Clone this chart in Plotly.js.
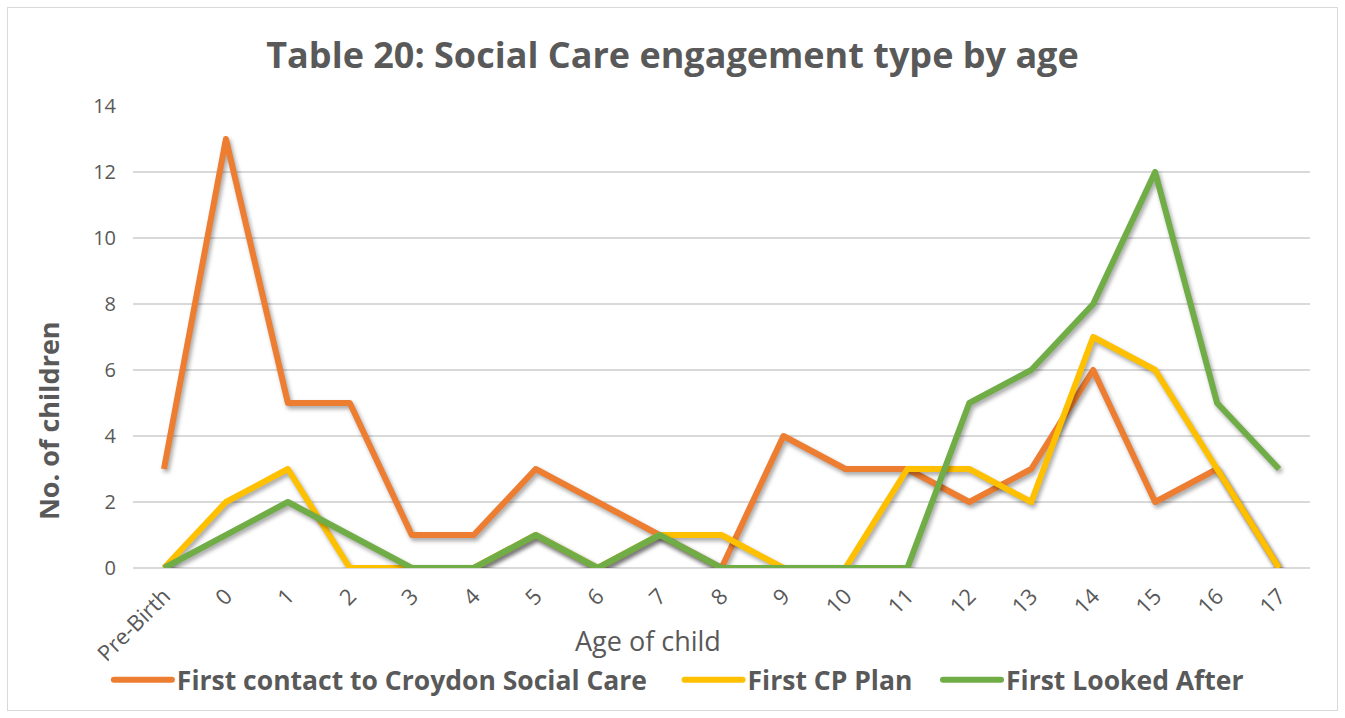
<!DOCTYPE html>
<html>
<head>
<meta charset="utf-8">
<script src="https://cdn.plot.ly/plotly-3.0.1.min.js"></script>
<style>
html,body{margin:0;padding:0;background:#fff;}
#chart{width:1345px;height:718px;}
#frame{position:absolute;left:7px;top:7px;width:1329px;height:702px;border:1.5px solid #d9d9d9;pointer-events:none;}
#chart .scatterlayer .js-line{filter:drop-shadow(2px 3px 2px rgba(0,0,0,0.35));stroke-linejoin:round;}
#chart .legend .js-line{stroke-linecap:round;}
</style>
</head>
<body>
<div id="chart"></div>
<div id="frame"></div>
<script>
const categories = ["Pre-Birth","0","1","2","3","4","5","6","7","8","9","10","11","12","13","14","15","16","17"];
const firstContact = [3,13,5,5,1,1,3,2,1,0,4,3,3,2,3,6,2,3,0];
const firstCPPlan = [0,2,3,0,0,0,1,0,1,1,0,0,3,3,2,7,6,3,0];
const firstLookedAfter = [0,1,2,1,0,0,1,0,1,0,0,0,0,5,6,8,12,5,3];
const seriesNames = ["First contact to Croydon Social Care","First CP Plan","First Looked After"];
const colors = ["#ED7D31","#FFC000","#70AD47"];

const font = "Open Sans, Noto Sans, sans-serif";
const txt = "#595959";
const pads = ["&nbsp;".repeat(4), "&nbsp;".repeat(3), ""];

const traces = [firstContact, firstCPPlan, firstLookedAfter].map((vals, i) => ({
  x: categories,
  y: vals,
  type: "scatter",
  mode: "lines",
  name: "<b>" + seriesNames[i] + "</b>" + pads[i],
  line: {color: colors[i], width: 6}
}));

const layout = {
  width: 1345,
  height: 718,
  paper_bgcolor: "#fff",
  plot_bgcolor: "#fff",
  margin: {l: 133, r: 35, t: 106, b: 150},
  title: {
    text: "<b>Table 20: Social Care engagement type by age</b>",
    font: {family: font, size: 36, color: txt},
    x: 0.5, xanchor: "center",
    y: 0.923, yanchor: "middle"
  },
  xaxis: {
    type: "category",
    tickangle: -45,
    tickfont: {family: font, size: 22, color: txt},
    showgrid: false,
    showline: false,
    zeroline: false,
    ticks: "",
    ticklabelstandoff: 10,
    range: [-0.5, 18.5]
  },
  yaxis: {
    range: [0, 14],
    dtick: 2,
    tickfont: {family: font, size: 20, color: txt},
    gridcolor: "#d9d9d9",
    gridwidth: 1.3,
    zeroline: true,
    zerolinecolor: "#d9d9d9",
    zerolinewidth: 1.3,
    ticks: "",
    ticklabelstandoff: 16
  },
  annotations: [
    {text: "Age of child", xref: "paper", yref: "paper", x: 0.4375, y: -0.156,
     xanchor: "center", yanchor: "middle", showarrow: false,
     font: {family: font, size: 27, color: txt}},
    {text: "<b>No. of children</b>", xref: "paper", yref: "paper", x: -0.0722, y: 0.318,
     xanchor: "center", yanchor: "middle", showarrow: false, textangle: -90,
     font: {family: font, size: 27, color: txt}}
  ],
  legend: {
    orientation: "h",
    x: -0.0205, xanchor: "left",
    y: -0.2424, yanchor: "middle",
    font: {family: font, size: 26.5, color: txt},
    itemwidth: 58,
    traceorder: "normal"
  },
  showlegend: true
};

Plotly.newPlot("chart", traces, layout, {displayModeBar: false, staticPlot: true});
</script>
</body>
</html>
